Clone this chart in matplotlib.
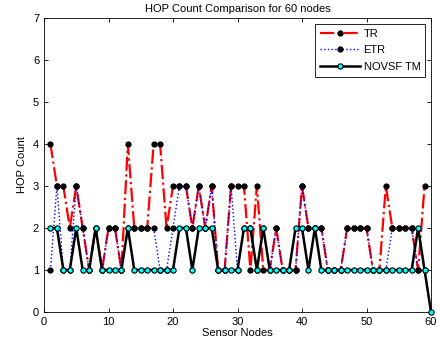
import matplotlib
matplotlib.use("Agg")
import matplotlib.pyplot as plt

# node index
nodes = list(range(1, 61))
nodes_tr = list(range(1, 60))

# HOP counts
tr_hops = [4, 3, 3, 2, 3, 2, 1, 2, 1, 2,
           2, 1, 4, 2, 2, 2, 4, 4, 2, 3,
           3, 3, 2, 3, 2, 3, 1, 1, 3, 3,
           3, 1, 3, 1, 1, 2, 1, 1, 1, 3,
           2, 2, 2, 1, 1, 1, 2, 2, 2, 2,
           1, 1, 3, 2, 2, 2, 2, 1, 3]
etr_hops = [1, 3, 1, 1, 3, 2, 1, 2, 1, 2,
            2, 1, 2, 2, 2, 2, 2, 1, 1, 2,
            3, 3, 2, 3, 2, 3, 1, 1, 3, 1,
            2, 2, 1, 2, 1, 2, 1, 1, 1, 3,
            2, 2, 2, 1, 1, 1, 2, 2, 2, 2,
            1, 1, 1, 2, 2, 2, 2, 1, 1]
novsf_hops = [2, 2, 1, 1, 2, 1, 1, 2, 1, 1,
              1, 1, 2, 1, 1, 1, 1, 1, 1, 1,
              2, 2, 1, 2, 2, 2, 1, 1, 1, 1,
              2, 2, 1, 2, 1, 1, 1, 1, 2, 2,
              1, 2, 1, 1, 1, 1, 1, 1, 1, 1,
              1, 1, 1, 1, 1, 1, 1, 2, 1, 0]

plt.rcParams['font.family'] = ['Liberation Sans', 'DejaVu Sans']

fig = plt.figure(figsize=(4.37, 3.47), dpi=100)
ax = fig.add_axes([44 / 437, 35 / 347, 387 / 437, 294 / 347])

ax.plot(nodes_tr, tr_hops, color='red', linestyle='-.', linewidth=1.6,
        marker='o', markersize=3.5, markerfacecolor='black', markeredgecolor='black',
        label='TR')
ax.plot(nodes_tr, etr_hops, color='blue', linestyle=':', linewidth=1.0,
        marker='o', markersize=3.5, markerfacecolor='black', markeredgecolor='black',
        label='ETR')
ax.plot(nodes, novsf_hops, color='black', linestyle='-', linewidth=1.8,
        marker='o', markersize=3.8, markerfacecolor='cyan', markeredgecolor='black',
        markeredgewidth=0.8, label='NOVSF TM', clip_on=False, zorder=5)

ax.set_xlim(0, 60)
ax.set_ylim(0, 7)
ax.set_xticks(range(0, 61, 10))
ax.set_yticks(range(0, 8))
ax.tick_params(direction='in', top=True, right=True, labelsize=8, length=3, width=0.6)
for s in ax.spines.values():
    s.set_linewidth(0.6)

ax.set_title('HOP Count Comparison for 60 nodes', fontsize=8, pad=4)
ax.set_xlabel('Sensor Nodes', fontsize=8, labelpad=1)
ax.set_ylabel('HOP Count', fontsize=8, labelpad=4)

leg = ax.legend(loc='upper right', fontsize=8, fancybox=False, framealpha=1,
                edgecolor='black', handlelength=3.6, borderpad=0.45,
                labelspacing=0.6, handletextpad=0.3, borderaxespad=0.5)
leg.get_frame().set_linewidth(0.6)

fig.savefig('out.png', dpi=100)
